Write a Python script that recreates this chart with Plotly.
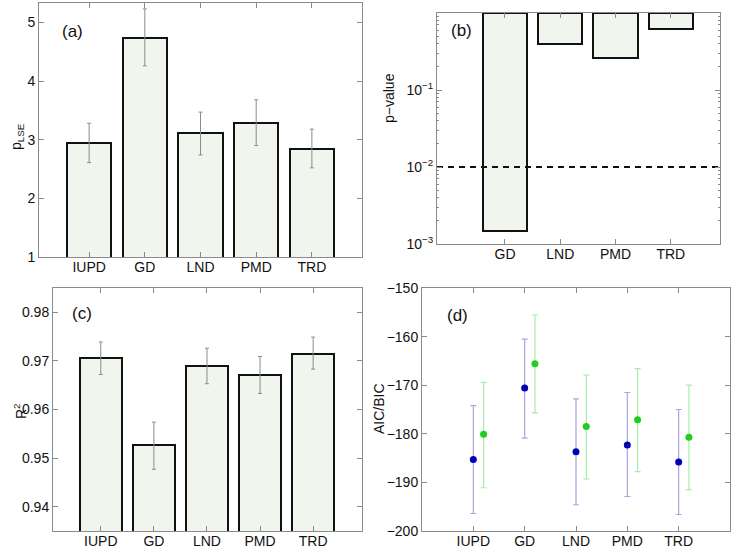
import plotly.graph_objects as go

# ---------------- data ----------------
models = ["IUPD", "GD", "LND", "PMD", "TRD"]
positions = [1, 2, 3, 4, 5]

# (a) p_LSE
p_lse = [2.94, 4.74, 3.11, 3.29, 2.84]
p_lse_hi = [3.28, 5.23, 3.47, 3.68, 3.18]
p_lse_lo = [2.61, 4.26, 2.74, 2.90, 2.52]

# (b) p-values (IUPD is the reference model)
pval_models = ["GD", "LND", "PMD", "TRD"]
pval_positions = [2, 3, 4, 5]
pvals = [0.00148, 0.39, 0.263, 0.614]
p_threshold = 0.01

# (c) R^2
r2 = [0.9705, 0.9526, 0.9689, 0.9671, 0.9715]
r2_hi = [0.9739, 0.9574, 0.9726, 0.9709, 0.9749]
r2_lo = [0.9672, 0.9477, 0.9653, 0.9633, 0.9683]

# (d) AIC / BIC
aic = [-185.3, -170.6, -183.7, -182.3, -185.8]
aic_hi = [-174.2, -160.5, -172.8, -171.5, -175.0]
aic_lo = [-196.4, -180.9, -194.6, -192.9, -196.6]
bic = [-180.1, -165.6, -178.5, -177.1, -180.7]
bic_hi = [-169.4, -155.5, -167.9, -166.6, -170.0]
bic_lo = [-191.1, -175.7, -189.3, -187.8, -191.5]

# ---------------- style ----------------
FONT = "Liberation Sans, Arial, Helvetica, sans-serif"
BAR_FILL = "#f0f5ee"
FRAME = "#8a8a8a"
ERR = "#8c8c8c"
W, H = 733, 550


def dom_x(a, b):
    return [a / W, b / W]


def dom_y(top, bottom):
    return [1 - bottom / H, 1 - top / H]


def up(v, hi):
    return [h - x for x, h in zip(v, hi)]


def down(v, lo):
    return [x - l for x, l in zip(v, lo)]


fig = go.Figure()

# (a)
fig.add_trace(go.Bar(
    x=positions, y=p_lse, width=0.8, xaxis="x", yaxis="y",
    marker=dict(color=BAR_FILL, line=dict(color="#111111", width=2)),
    error_y=dict(type="data", array=up(p_lse, p_lse_hi), arrayminus=down(p_lse, p_lse_lo),
                 color=ERR, thickness=1, width=2),
    showlegend=False))

# (b) bars hanging from p = 1
fig.add_trace(go.Bar(
    x=pval_positions, base=pvals, y=[1 - p for p in pvals], width=0.8,
    xaxis="x2", yaxis="y2",
    marker=dict(color=BAR_FILL, line=dict(color="#111111", width=2)),
    showlegend=False))
fig.add_trace(go.Scatter(
    x=[0.77, 5.89], y=[p_threshold, p_threshold], mode="lines",
    line=dict(color="#111111", width=2, dash="6px,5px"),
    xaxis="x2", yaxis="y2", showlegend=False, cliponaxis=True))

# (c)
fig.add_trace(go.Bar(
    x=positions, y=r2, width=0.8, xaxis="x3", yaxis="y3",
    marker=dict(color=BAR_FILL, line=dict(color="#111111", width=2)),
    error_y=dict(type="data", array=up(r2, r2_hi), arrayminus=down(r2, r2_lo),
                 color=ERR, thickness=1, width=2),
    showlegend=False))

# (d)
fig.add_trace(go.Scatter(
    x=positions, y=aic, mode="markers", xaxis="x4", yaxis="y4",
    marker=dict(color="#0000b4", size=7),
    error_y=dict(type="data", array=up(aic, aic_hi), arrayminus=down(aic, aic_lo),
                 color="#a6a6e6", thickness=1.2, width=3),
    name="AIC", showlegend=False))
fig.add_trace(go.Scatter(
    x=[p + 0.2 for p in positions], y=bic, mode="markers", xaxis="x4", yaxis="y4",
    marker=dict(color="#22cc22", size=7),
    error_y=dict(type="data", array=up(bic, bic_hi), arrayminus=down(bic, bic_lo),
                 color="#a8eca8", thickness=1.2, width=3),
    name="BIC", showlegend=False))

axis_common = dict(showline=True, linecolor=FRAME, linewidth=1, mirror="ticks",
                   ticks="inside", ticklen=5, tickcolor=FRAME, showgrid=False,
                   zeroline=False, tickfont=dict(family=FONT, size=14, color="#111111"),
                   fixedrange=True, automargin=False)
x_common = dict(axis_common, ticklabelstandoff=-3)

minor_vals = [m * 10 ** e for e in (-3, -2, -1) for m in range(2, 10)]

fig.update_layout(
    width=W, height=H,
    margin=dict(l=0, r=0, t=0, b=0, pad=0, autoexpand=False),
    paper_bgcolor="white", plot_bgcolor="white",
    font=dict(family=FONT, size=14, color="#111111"),
    showlegend=False,
    bargap=0,
    xaxis=dict(domain=dom_x(39, 362), range=[0.1, 5.9], tickvals=positions, ticktext=models,
               anchor="y", **x_common),
    yaxis=dict(domain=dom_y(3, 257), range=[1, 5.33], tickvals=[1, 2, 3, 4, 5],
               anchor="x", **axis_common),
    xaxis2=dict(domain=dom_x(437, 720), range=[0.77, 5.89], tickvals=pval_positions,
                ticktext=pval_models, anchor="y2", **x_common),
    yaxis2=dict(domain=dom_y(13, 244), type="log", range=[-3, 0],
                tickvals=[1e-3, 1e-2, 1e-1],
                ticktext=["10<sup>−3</sup>", "10<sup>−2</sup>", "10<sup>−1</sup>"],
                minor=dict(tickvals=minor_vals, ticks="inside", ticklen=2, tickcolor=FRAME),
                anchor="x2", **axis_common),
    xaxis3=dict(domain=dom_x(53, 362), range=[0.1, 5.92], tickvals=positions, ticktext=models,
                anchor="y3", **x_common),
    yaxis3=dict(domain=dom_y(288, 531), range=[0.935, 0.985],
                tickvals=[0.94, 0.95, 0.96, 0.97, 0.98], tickformat=".2f",
                anchor="x3", **axis_common),
    xaxis4=dict(domain=dom_x(422, 730), range=[0, 6.0], tickvals=positions, ticktext=models,
                anchor="y4", **x_common),
    yaxis4=dict(domain=dom_y(288, 531), range=[-200, -150], dtick=10,
                anchor="x4", **axis_common),
)

ann = []
# panel labels
for txt, px, py in [("(a)", 72, 31), ("(b)", 462, 30), ("(c)", 82, 313), ("(d)", 457, 315)]:
    ann.append(dict(text=txt, x=px / W, y=1 - py / H, xref="paper", yref="paper",
                    showarrow=False, xanchor="center", yanchor="middle",
                    font=dict(family=FONT, size=17, color="#111111")))
# y-axis titles
for txt, px, py in [("p<sub>LSE</sub>", 17, 137), ("p−value", 389, 98),
                    ("R<sup>2</sup>", 20, 411), ("AIC/BIC", 379, 409)]:
    ann.append(dict(text=txt, x=px / W, y=1 - py / H, xref="paper", yref="paper",
                    showarrow=False, textangle=-90, xanchor="center", yanchor="middle",
                    font=dict(family=FONT, size=14, color="#111111")))
fig.update_layout(annotations=ann)

fig.write_html("out.html", config={"displayModeBar": False},
               post_script="document.body.style.margin='0';")
